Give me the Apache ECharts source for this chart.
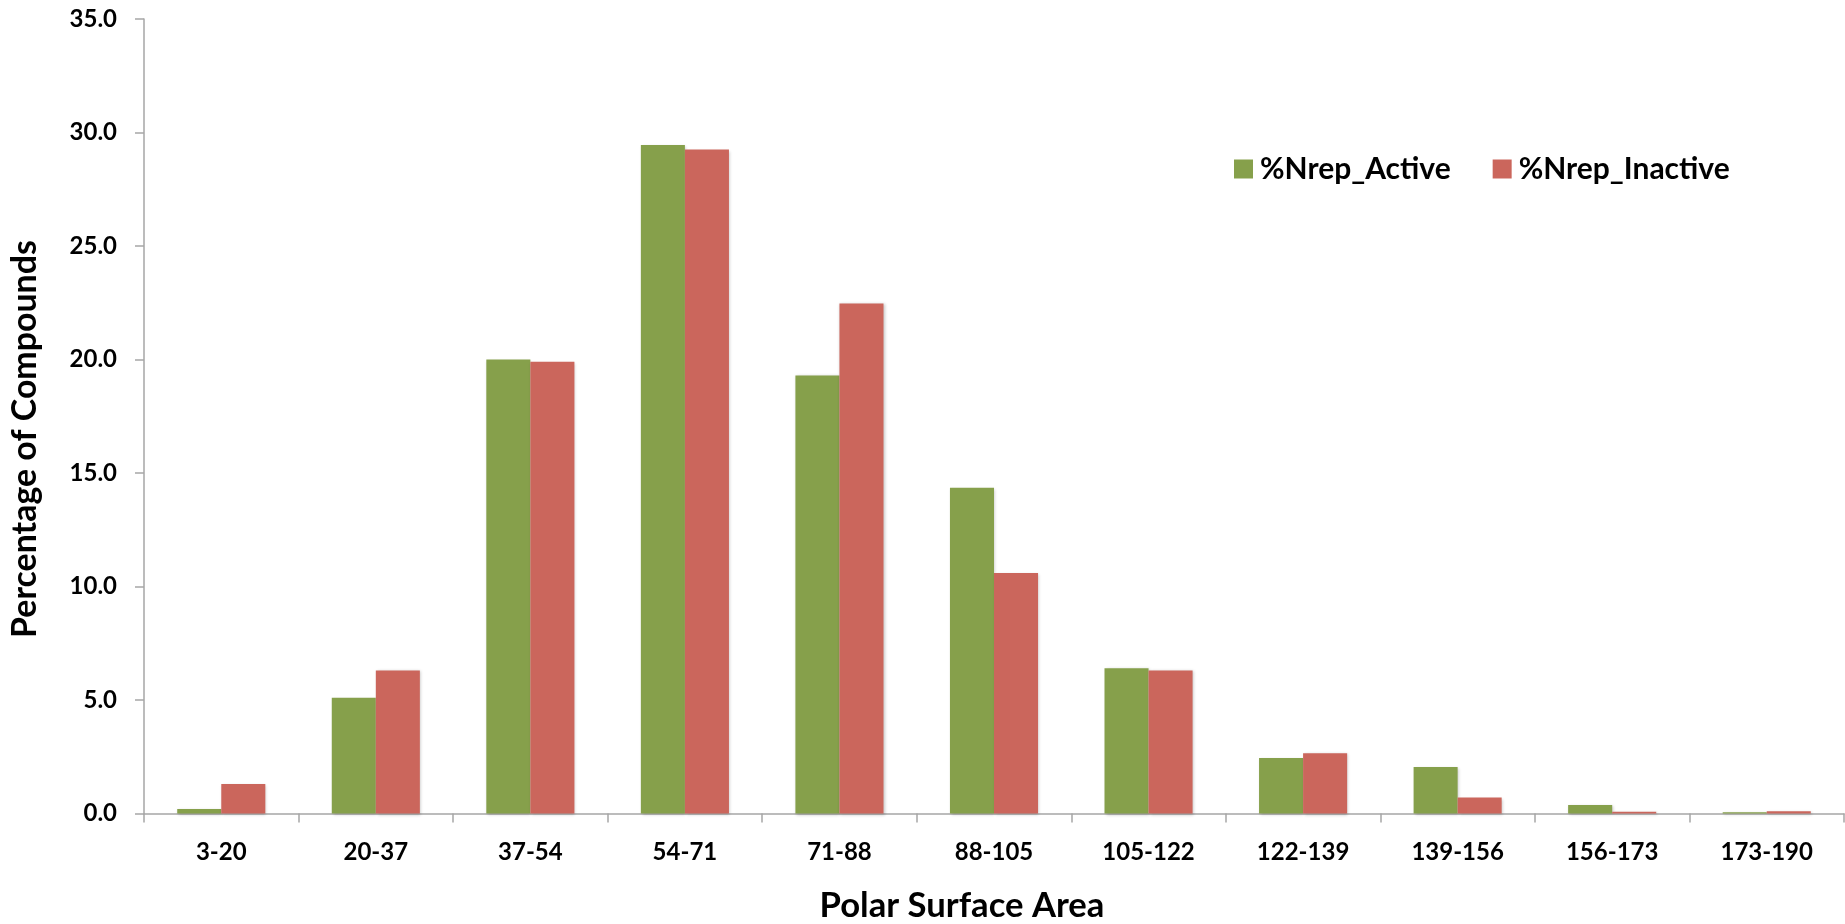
<!DOCTYPE html>
<html><head><meta charset="utf-8">
<script src="https://cdn.jsdelivr.net/npm/echarts@6/dist/echarts.min.js"></script>
<style>html,body{margin:0;padding:0;background:#fff}#c{width:1845px;height:924px}</style>
</head><body><div id="c"></div>
<script>
const categories = ['3-20','20-37','37-54','54-71','71-88','88-105','105-122','122-139','139-156','156-173','173-190'];
const activeValues = [0.2, 5.1, 20.0, 29.45, 19.3, 14.35, 6.4, 2.45, 2.05, 0.37, 0.05];
const inactiveValues = [1.3, 6.3, 19.9, 29.25, 22.47, 10.6, 6.3, 2.65, 0.7, 0.08, 0.1];
const seriesNames = ['%Nrep_Active', '%Nrep_Inactive'];
const yTicks = {min: 0, max: 35, interval: 5};
const xTitle = 'Polar Surface Area';
const yTitle = 'Percentage of Compounds';

const FONT = 'Lato';
const ctx = document.createElement('canvas').getContext('2d');
function fit(text, target) {
  ctx.font = 'bold 100px ' + FONT;
  return 100 * target / ctx.measureText(text).width;
}
const tickFs = (fit('173-190', 91) + fit('35.0', 49) + fit('3-20', 50)) / 3;
const legendFs = (fit(seriesNames[0], 190) + fit(seriesNames[1], 212)) / 2;
const xTitleFs = fit(xTitle, 285);
const yTitleFs = fit(yTitle, 398);

const chart = echarts.init(document.getElementById('c'));
const shadow = {shadowColor: 'rgba(0,0,0,0.22)', shadowBlur: 3, shadowOffsetX: 1, shadowOffsetY: 1};
chart.setOption({
  animation: false,
  textStyle: {fontFamily: FONT},
  grid: {left: 144, right: 1, top: 19, bottom: 110.5, containLabel: false},
  legend: {
    left: 1234, top: 153, padding: 0, itemWidth: 19, itemHeight: 19, itemGap: 42,
    icon: 'rect',
    textStyle: {fontFamily: FONT, fontWeight: 'bold', fontSize: legendFs, lineHeight: 30, color: '#000', padding: [2, 0, 0, 2]},
    data: seriesNames
  },
  graphic: [
    {type: 'text', x: 962, y: 906, silent: true,
     style: {text: xTitle, fontFamily: FONT, fontWeight: 'bold', fontSize: xTitleFs, fill: '#000',
       align: 'center', verticalAlign: 'middle'}},
    {type: 'text', x: 25, y: 439, rotation: Math.PI / 2, silent: true,
     style: {text: yTitle, fontFamily: FONT, fontWeight: 'bold', fontSize: yTitleFs, fill: '#000',
       align: 'center', verticalAlign: 'middle'}}
  ],
  xAxis: {
    type: 'category', data: categories,
    axisLine: {lineStyle: {color: '#a6a6a6', width: 1.5}},
    axisTick: {show: true, length: 9, inside: false, lineStyle: {color: '#a6a6a6', width: 1.5}},
    axisLabel: {margin: 39, verticalAlign: 'middle', fontFamily: FONT, fontWeight: 'bold', fontSize: tickFs, color: '#000'}
  },
  yAxis: {
    type: 'value', min: yTicks.min, max: yTicks.max, interval: yTicks.interval,
    axisLine: {show: true, lineStyle: {color: '#a6a6a6', width: 1.5}},
    axisTick: {show: true, length: 9, lineStyle: {color: '#a6a6a6', width: 1.5}},
    splitLine: {show: false},
    axisLabel: {margin: 27, fontFamily: FONT, fontWeight: 'bold', fontSize: tickFs, color: '#000',
      formatter: v => v.toFixed(1)}
  },
  series: [
    {name: seriesNames[0], type: 'bar', data: activeValues, barGap: '0%', barCategoryGap: '43%',
     itemStyle: Object.assign({color: '#86a04b'}, shadow)},
    {name: seriesNames[1], type: 'bar', data: inactiveValues, barGap: '0%', barCategoryGap: '43%',
     itemStyle: Object.assign({color: '#cb665c'}, shadow)}
  ]
});
</script></body></html>
